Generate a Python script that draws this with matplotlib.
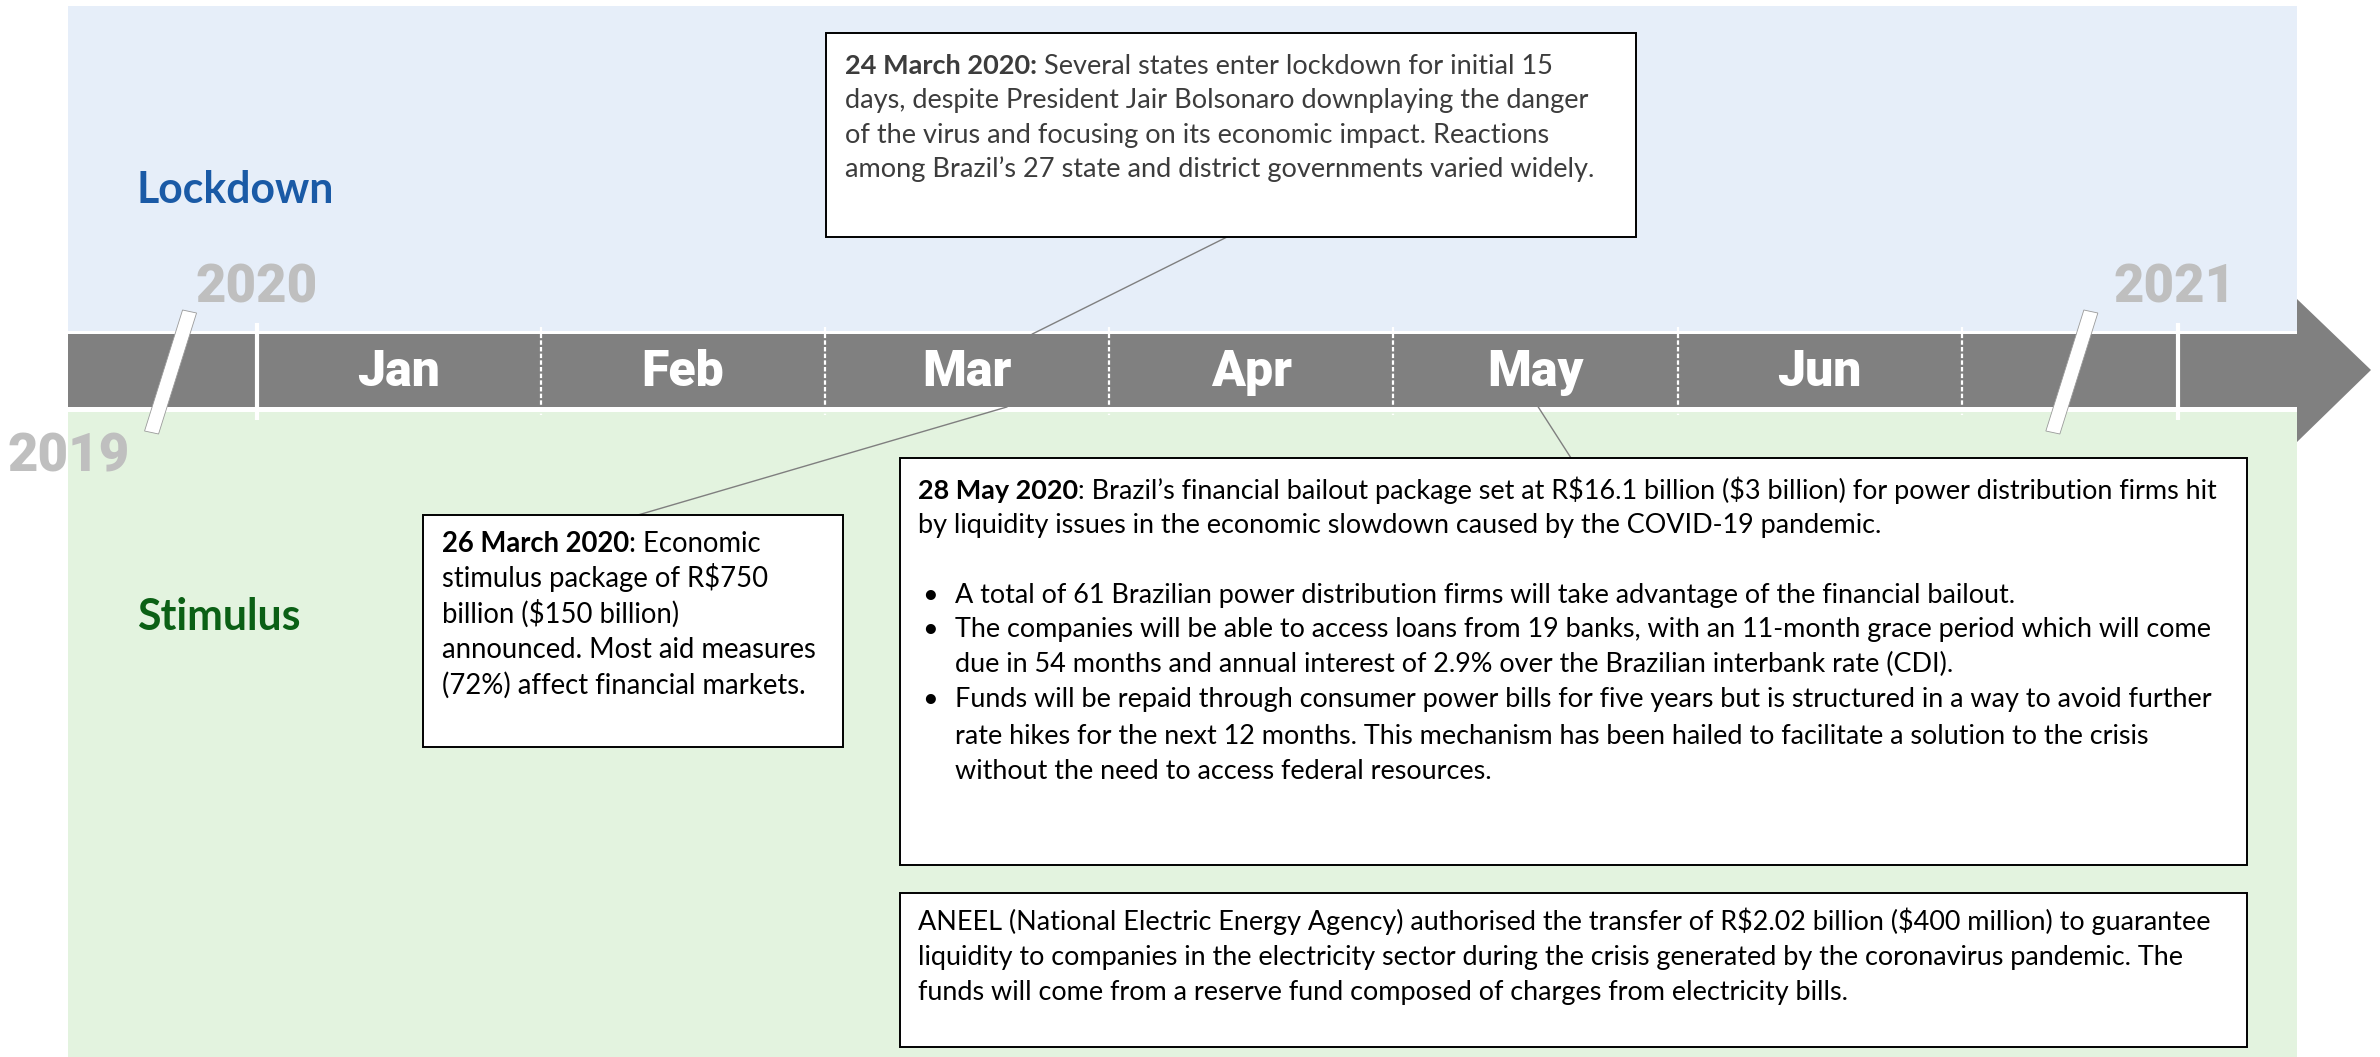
import matplotlib
matplotlib.use('Agg')
import matplotlib.pyplot as plt
from matplotlib.patches import Rectangle, Polygon
from matplotlib import font_manager

# ---------------- data ----------------
months = ['Jan', 'Feb', 'Mar', 'Apr', 'May', 'Jun']
year_boundaries = [0.0, 6.76]          # month position of 1 Jan 2020 and (compressed) 1 Jan 2021
year_labels = ['2019', '2020', '2021']
axis_breaks = [-0.32, 6.37]            # slash marks on the axis (month units)
band_labels = ['Lockdown', 'Stimulus']

event_dates = ['24 March 2020:', '26 March 2020', '28 May 2020', '']
event_anchor = [2.73, 2.64, 4.51]      # where each connector meets the time axis (months)

event1_lines = [
    [('24 March 2020:', 'bold'), (' Several states enter lockdown for initial 15', 'normal')],
    [('days, despite President Jair Bolsonaro downplaying the danger', 'normal')],
    [('of the virus and focusing on its economic impact. Reactions', 'normal')],
    [('among Brazil\u2019s 27 state and district governments varied widely.', 'normal')],
]
event2_lines = [
    [('26 March 2020', 'bold'), (': Economic', 'normal')],
    [('stimulus package of R$750', 'normal')],
    [('billion ($150 billion)', 'normal')],
    [('announced. Most aid measures', 'normal')],
    [('(72%) affect financial markets.', 'normal')],
]
event3_lines = [
    [('28 May 2020', 'bold'), (': Brazil\u2019s financial bailout package set at R$16.1 billion ($3 billion) for power distribution firms hit', 'normal')],
    [('by liquidity issues in the economic slowdown caused by the COVID-19 pandemic.', 'normal')],
]
event3_bullets = [
    ['A total of 61 Brazilian power distribution firms will take advantage of the financial bailout.'],
    ['The companies will be able to access loans from 19 banks, with an 11-month grace period which will come',
     'due in 54 months and annual interest of 2.9% over the Brazilian interbank rate (CDI).'],
    ['Funds will be repaid through consumer power bills for five years but is structured in a way to avoid further',
     'rate hikes for the next 12 months. This mechanism has been hailed to facilitate a solution to the crisis',
     'without the need to access federal resources.'],
]
event4_lines = [
    [('ANEEL (National Electric Energy Agency) authorised the transfer of R$2.02 billion ($400 million) to guarantee', 'normal')],
    [('liquidity to companies in the electricity sector during the crisis generated by the coronavirus pandemic. The', 'normal')],
    [('funds will come from a reserve fund composed of charges from electricity bills.', 'normal')],
]

# ---------------- layout (pixels) ----------------
W, H = 2380, 1057
X0, MW = 256.5, 284.2          # pixel x of 1 Jan 2020, pixels per month
def P(xpx):
    return (xpx - X0) / MW

installed = {f.name for f in font_manager.fontManager.ttflist}
NARROW = 'Liberation Sans Narrow' if 'Liberation Sans Narrow' in installed else 'Roboto'
BODY = 'Lato' if 'Lato' in installed else 'DejaVu Sans'

BLUE_BG = '#E6EEF9'
GREEN_BG = '#E3F3DF'
BAR = '#808080'
YEAR = '#BFBFBF'

fig = plt.figure(figsize=(W / 100, H / 100), dpi=100)
ax = fig.add_axes([0, 0, 1, 1])
ax.set_xlim(P(0), P(W))
ax.set_ylim(H, 0)
ax.axis('off')
renderer = fig.canvas.get_renderer()

# bands
ax.add_patch(Rectangle((P(68), 6), P(2297) - P(68), 331 - 6, facecolor=BLUE_BG, edgecolor='none', zorder=0))
ax.add_patch(Rectangle((P(68), 412), P(2297) - P(68), H - 412, facecolor=GREEN_BG, edgecolor='none', zorder=0))

# time-axis arrow
arrow = [(68, 334), (2297, 334), (2297, 299), (2371, 370), (2297, 442), (2297, 407), (68, 407)]
ax.add_patch(Polygon([(P(x), y) for x, y in arrow], closed=True, facecolor=BAR, edgecolor='none', zorder=1))

# month dividers (dotted) and labels
for i, m in enumerate(months):
    ax.text(i + 0.5, 372, m, ha='center', va='center', fontsize=36, weight='heavy',
            family=NARROW, color='white', zorder=3)
for i in range(1, len(months) + 1):
    ax.plot([i, i], [327, 415], color='white', lw=1.6, ls=(0, (2, 1)), zorder=2, solid_capstyle='butt')

# year boundaries (solid)
for yb in year_boundaries:
    ax.plot([yb, yb], [323, 420], color='white', lw=3, zorder=2, solid_capstyle='butt')

# axis break slashes
for b in axis_breaks:
    xc = X0 + b * MW
    poly = [(xc + 17, 310), (xc + 31, 313), (xc - 7, 434), (xc - 21, 431)]
    ax.add_patch(Polygon([(P(x), y) for x, y in poly], closed=True, facecolor='white',
                         edgecolor='#9A9A9A', lw=0.6, zorder=3))

# year labels
ysz = 38
ax.text(P(69), 457, year_labels[0], ha='center', va='center', fontsize=ysz, weight='heavy', family=NARROW, color=YEAR)
ax.text(year_boundaries[0], 288, year_labels[1], ha='center', va='center', fontsize=ysz, weight='heavy', family=NARROW, color=YEAR)
ax.text(year_boundaries[1] - 0.01, 288, year_labels[2], ha='center', va='center', fontsize=ysz, weight='heavy', family=NARROW, color=YEAR)

# helpers
def width_px(txt, size, weight='normal', family=BODY):
    t = ax.text(0, 0, txt, fontsize=size, weight=weight, family=family, parse_math=False)
    w = t.get_window_extent(renderer).width
    t.remove()
    return w

def fit(txt, target, weight='normal', family=BODY):
    return 20 * target / width_px(txt, 20, weight, family)

def draw_parts(xpx, ypx, parts, size, color):
    x = xpx
    for txt, wt in parts:
        ax.text(P(x), ypx, txt, fontsize=size, weight=wt, family=BODY, color=color,
                ha='left', va='baseline', zorder=6, parse_math=False)
        x += width_px(txt, size, wt)

# band labels
lsize = fit(band_labels[0], 197, 'bold')
ax.text(P(137), 203, band_labels[0], fontsize=lsize, weight='bold', family=BODY, color='#1A5AA6', ha='left', va='baseline')
ax.text(P(137), 630, band_labels[1], fontsize=lsize, weight='bold', family=BODY, color='#0B6015', ha='left', va='baseline')

def box(x1, y1, x2, y2):
    ax.add_patch(Rectangle((P(x1), y1), P(x2) - P(x1), y2 - y1, facecolor='white',
                           edgecolor='black', lw=1.4, zorder=5))

def connector(xpx, ypx, month, ybar):
    ax.plot([P(xpx), month], [ypx, ybar], color='#7F7F7F', lw=1.0, zorder=4)

# Event 1 (lockdown)
box(826, 33, 1636, 237)
connector(1227, 237, event_anchor[0], 334)
s1 = fit(event1_lines[3][0][0], 752)
for parts, yb in zip(event1_lines, [74, 108, 143, 177]):
    draw_parts(845, yb, parts, s1, '#3C3C3C')

# Event 2 (stimulus)
box(423, 515, 843, 747)
connector(638, 515, event_anchor[1], 407)
s2 = fit(event2_lines[3][0][0], 376)
for parts, yb in zip(event2_lines, [552, 587, 623, 658, 694]):
    draw_parts(442, yb, parts, s2, 'black')

# Event 3 (bailout)
box(900, 458, 2247, 865)
connector(1571, 458, event_anchor[2], 407)
s3 = fit(event3_bullets[1][0], 1261)
for parts, yb in zip(event3_lines, [499, 533]):
    draw_parts(918, yb, parts, s3, 'black')
bullet_y = [603, 637, 672, 707, 744, 779]
k = 0
for bl in event3_bullets:
    ax.text(P(922), bullet_y[k], '\u2022', fontsize=s3, family=BODY, color='black', ha='left', va='baseline', zorder=6)
    for line in bl:
        ax.text(P(955), bullet_y[k], line, fontsize=s3, family=BODY, color='black', ha='left',
                va='baseline', zorder=6, parse_math=False)
        k += 1

# Event 4 (ANEEL)
box(900, 893, 2247, 1047)
s4 = fit(event4_lines[1][0][0], 1274)
for parts, yb in zip(event4_lines, [930, 965, 1000]):
    draw_parts(918, yb, parts, s4, 'black')

fig.savefig('out.png', dpi=100, facecolor='white')
